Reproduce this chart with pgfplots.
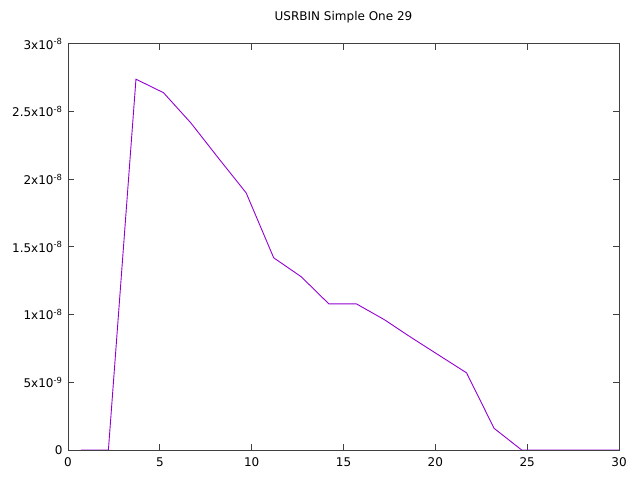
\documentclass[border=0pt]{standalone}
\usepackage{fontspec}
\setmainfont{DejaVu Sans}
\usepackage{pgfplots}
\pgfplotsset{compat=1.18}
\definecolor{gpviolet}{HTML}{9400D3}
\definecolor{gpborder}{HTML}{404040}
\begin{document}
\begin{tikzpicture}
\useasboundingbox (0,0) rectangle (640bp,480bp);
\begin{axis}[
  at={(68bp,30bp)}, anchor=south west,
  scale only axis, width=551bp, height=406bp,
  xmin=0, xmax=30, ymin=0, ymax=3e-8,
  xtick={0,5,10,15,20,25,30},
  ytick={0,5e-9,1e-8,1.5e-8,2e-8,2.5e-8,3e-8},
  yticklabels={0,5x10\textsuperscript{-9},1x10\textsuperscript{-8},1.5x10\textsuperscript{-8},2x10\textsuperscript{-8},2.5x10\textsuperscript{-8},3x10\textsuperscript{-8}},
  scaled y ticks=false,
  /pgf/number format/assume math mode=true,
  tick align=inside, major tick length=6bp,
  axis line style={gpborder, line width=1bp},
  every tick/.style={gpborder, line width=1bp},
  font=\fontsize{12bp}{14bp}\selectfont,
  ticklabel style={font=\fontsize{12bp}{14bp}\selectfont},
  yticklabel style={xshift=-2bp},
  xticklabel style={yshift=-4bp},
  title={USRBIN Simple One 29},
  title style={at={(0.5,1)}, anchor=base, yshift=18bp, font=\fontsize{12bp}{14bp}\selectfont},
  clip=true,
]
\addplot[gpviolet, line width=0.9bp] coordinates {
(0.7,0) (2.2,0) (3.7,2.74e-8) (5.2,2.64e-8) (6.7,2.415e-8) (8.2,2.155e-8)
(9.7,1.90e-8) (11.2,1.42e-8) (12.7,1.28e-8) (14.2,1.08e-8) (15.7,1.08e-8)
(17.2,9.65e-9) (18.7,8.3e-9) (20.2,7.0e-9) (21.7,5.7e-9) (23.2,1.6e-9)
(24.7,0) (26.2,0) (27.7,0) (29.2,0) (30.7,0)
};
\end{axis}
\end{tikzpicture}
\end{document}
